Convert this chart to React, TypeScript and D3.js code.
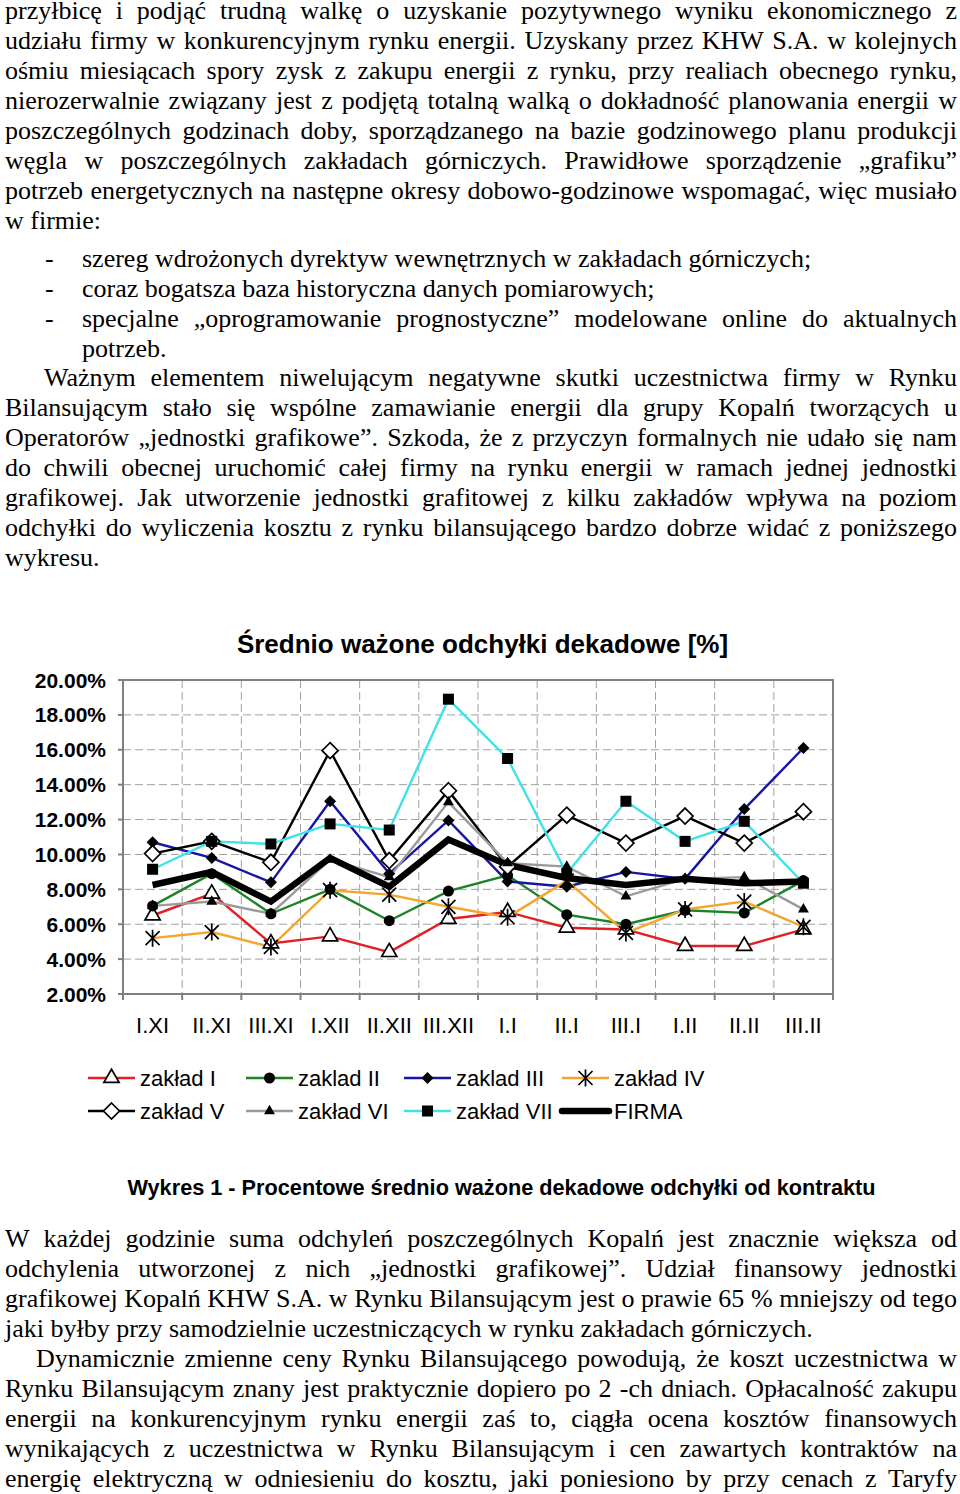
import { useMemo } from 'react'
import * as d3 from 'd3'

// --- chart data ---
const categories = ['I.XI', 'II.XI', 'III.XI', 'I.XII', 'II.XII', 'III.XII', 'I.I', 'II.I', 'III.I', 'I.II', 'II.II', 'III.II']
const yTicks = [2, 4, 6, 8, 10, 12, 14, 16, 18, 20]

const zakladI = [6.5, 7.75, 4.9, 5.3, 4.4, 6.3, 6.7, 5.8, 5.7, 4.75, 4.75, 5.7]
const zakladII = [7.05, 8.9, 6.6, 8.0, 6.2, 7.9, 8.8, 6.55, 6.0, 6.8, 6.65, 8.5]
const zakladIII = [10.7, 9.8, 8.4, 13.05, 8.9, 11.95, 8.45, 8.15, 9.0, 8.6, 12.6, 16.1]
const zakladIV = [5.2, 5.55, 4.7, 7.95, 7.7, 7.0, 6.4, 8.5, 5.5, 6.85, 7.3, 5.85]
const zakladV = [10.05, 10.75, 9.55, 15.95, 9.65, 13.65, 9.3, 12.25, 10.65, 12.2, 10.65, 12.45]
const zakladVI = [7.05, 7.3, 6.6, 9.7, 8.7, 13.0, 9.5, 9.3, 7.6, 8.6, 8.7, 6.85]
const zakladVII = [9.15, 10.75, 10.6, 11.75, 11.4, 18.9, 15.5, 8.9, 13.05, 10.75, 11.9, 8.35]
const firma = [8.25, 9.0, 7.3, 9.8, 8.15, 10.85, 9.4, 8.65, 8.25, 8.6, 8.35, 8.45]

const seriesNames = ['zakład I', 'zaklad II', 'zaklad III', 'zakład IV', 'zakład V', 'zakład VI', 'zakład VII', 'FIRMA']

const chartTitle = 'Średnio ważone odchyłki dekadowe [%]'
const caption = 'Wykres 1 - Procentowe średnio ważone dekadowe odchyłki od kontraktu'

// --- surrounding document text ---
const topLines = [
  'przyłbicę i podjąć trudną walkę o uzyskanie pozytywnego wyniku ekonomicznego z',
  'udziału firmy w konkurencyjnym rynku energii. Uzyskany przez KHW S.A. w kolejnych',
  'ośmiu miesiącach spory zysk z zakupu energii z rynku, przy realiach obecnego rynku,',
  'nierozerwalnie związany jest z podjętą totalną walką o dokładność planowania energii w',
  'poszczególnych godzinach doby, sporządzanego na bazie godzinowego planu produkcji',
  'węgla w poszczególnych zakładach górniczych. Prawidłowe sporządzenie „grafiku”',
  'potrzeb energetycznych na następne okresy dobowo-godzinowe wspomagać, więc musiało',
  'w firmie:',
]
const bulletLines = [
  'szereg wdrożonych dyrektyw wewnętrznych w zakładach górniczych;',
  'coraz bogatsza baza historyczna danych pomiarowych;',
  'specjalne „oprogramowanie prognostyczne” modelowane online do aktualnych',
  'potrzeb.',
]
const midLines = [
  'Ważnym elementem niwelującym negatywne skutki uczestnictwa firmy w Rynku',
  'Bilansującym stało się wspólne zamawianie energii dla grupy Kopalń tworzących u',
  'Operatorów „jednostki grafikowe”. Szkoda, że z przyczyn formalnych nie udało się nam',
  'do chwili obecnej uruchomić całej firmy na rynku energii w ramach jednej jednostki',
  'grafikowej. Jak utworzenie jednostki grafitowej z kilku zakładów wpływa na poziom',
  'odchyłki do wyliczenia kosztu z rynku bilansującego bardzo dobrze widać z poniższego',
  'wykresu.',
]
const bottomLines = [
  'W każdej godzinie suma odchyleń poszczególnych Kopalń jest znacznie większa od',
  'odchylenia utworzonej z nich „jednostki grafikowej”. Udział finansowy jednostki',
  'grafikowej Kopalń KHW S.A. w Rynku Bilansującym jest o prawie 65 % mniejszy od tego',
  'jaki byłby przy samodzielnie uczestniczących w rynku zakładach górniczych.',
  'Dynamicznie zmienne ceny Rynku Bilansującego powodują, że koszt uczestnictwa w',
  'Rynku Bilansującym znany jest praktycznie dopiero po 2 -ch dniach. Opłacalność zakupu',
  'energii na konkurencyjnym rynku energii zaś to, ciągła ocena kosztów finansowych',
  'wynikających z uczestnictwa w Rynku Bilansującym i cen zawartych kontraktów na',
  'energię elektryczną w odniesieniu do kosztu, jaki poniesiono by przy cenach z Taryfy',
]

const SERIF = '"Liberation Serif", "Times New Roman", serif'
const SANS = '"Liberation Sans", Arial, sans-serif'
const BODY_SIZE = 26
const RIGHT = 957

type Marker = 'triOpen' | 'circle' | 'diamond' | 'star' | 'diamondOpen' | 'triFilled' | 'square' | 'none'

const series = [
  { name: seriesNames[0], values: zakladI, color: '#e31e24', width: 2.4, marker: 'triOpen' as Marker },
  { name: seriesNames[1], values: zakladII, color: '#1c8326', width: 2.4, marker: 'circle' as Marker },
  { name: seriesNames[2], values: zakladIII, color: '#1616a6', width: 2.4, marker: 'diamond' as Marker },
  { name: seriesNames[3], values: zakladIV, color: '#f6a52c', width: 2.4, marker: 'star' as Marker },
  { name: seriesNames[4], values: zakladV, color: '#000000', width: 2.4, marker: 'diamondOpen' as Marker },
  { name: seriesNames[5], values: zakladVI, color: '#9a9a9a', width: 2.4, marker: 'triFilled' as Marker },
  { name: seriesNames[6], values: zakladVII, color: '#3fe2ea', width: 2.4, marker: 'square' as Marker },
  { name: seriesNames[7], values: firma, color: '#000000', width: 6.5, marker: 'none' as Marker },
]

function MarkerShape({ type, x, y }: { type: Marker; x: number; y: number }) {
  const t = `translate(${x},${y})`
  switch (type) {
    case 'triOpen':
      return <path transform={t} d={d3.symbol(d3.symbolTriangle, 100)()!} fill="#fff" stroke="#000" strokeWidth={1.7} />
    case 'circle':
      return <circle cx={x} cy={y} r={5.5} fill="#000" />
    case 'diamond':
      return <path transform={t} d="M0,-6L6,0L0,6L-6,0Z" fill="#000" />
    case 'star':
      return (
        <path transform={t} d="M-7,-7L7,7M-7,7L7,-7M0,-8.5L0,8.5" stroke="#000" strokeWidth={1.7} fill="none" />
      )
    case 'diamondOpen':
      return <path transform={t} d="M0,-8L8,0L0,8L-8,0Z" fill="#fff" stroke="#000" strokeWidth={1.7} />
    case 'triFilled':
      return <path transform={t} d={d3.symbol(d3.symbolTriangle, 52)()!} fill="#000" />
    case 'square':
      return <rect x={x - 5.5} y={y - 5.5} width={11} height={11} fill="#000" />
    default:
      return null
  }
}

function TextLine({ text, x, y, justify, measure }: {
  text: string; x: number; y: number; justify: boolean; measure: (s: string) => number
}) {
  if (!justify) return <text x={x} y={y}>{text}</text>
  const words = text.split(' ')
  const widths = words.map(measure)
  const gap = (RIGHT - x - d3.sum(widths)) / (words.length - 1)
  let cur = x
  return (
    <text y={y}>
      {words.map((w, i) => {
        const pos = cur
        cur += widths[i] + gap
        return <tspan key={i} x={pos}>{w}</tspan>
      })}
    </text>
  )
}

export default function App() {
  const measure = useMemo(() => {
    const ctx = document.createElement('canvas').getContext('2d')!
    ctx.font = `${BODY_SIZE}px ${SERIF}`
    return (s: string) => ctx.measureText(s).width
  }, [])

  const plot = { left: 123, right: 833, top: 680, bottom: 994 }
  const x = d3.scaleBand<string>().domain(categories).range([plot.left, plot.right])
  const y = d3.scaleLinear().domain([2, 20]).range([plot.bottom, plot.top])
  const cx = (c: string) => (x(c) ?? 0) + x.bandwidth() / 2

  const line = d3.line<number>()
    .x((_, i) => cx(categories[i]))
    .y(d => y(d))

  const boundaries = categories.map(c => x(c)!).concat([plot.right])

  const legendCols = [88, 246, 404, 562]
  const legendRows = [1078, 1111]

  return (
    <svg width={960} height={1494} style={{ position: 'absolute', left: 0, top: 0, background: '#fff' }}>
      {/* document text */}
      <g fontFamily={SERIF} fontSize={BODY_SIZE} fill="#000">
        {topLines.map((t, i) => (
          <TextLine key={'t' + i} text={t} x={5} y={19 + i * 30} justify={i < topLines.length - 1} measure={measure} />
        ))}
        {bulletLines.map((t, i) => (
          <g key={'b' + i}>
            {i < 3 && <text x={45} y={267 + i * 30}>-</text>}
            <TextLine text={t} x={82} y={267 + i * 30} justify={i === 2} measure={measure} />
          </g>
        ))}
        {midLines.map((t, i) => (
          <TextLine key={'m' + i} text={t} x={i === 0 ? 44 : 5} y={386 + i * 30} justify={i < midLines.length - 1} measure={measure} />
        ))}
        {bottomLines.map((t, i) => (
          <TextLine key={'e' + i} text={t} x={i === 4 ? 36 : 5} y={1247 + i * 30} justify={i !== 3} measure={measure} />
        ))}
      </g>

      {/* chart */}
      <g fontFamily={SANS} fill="#000">
        <text x={482.5} y={653} textAnchor="middle" fontSize={26} fontWeight="bold">{chartTitle}</text>

        {/* grid */}
        {yTicks.slice(1, -1).map(v => (
          <line key={'gy' + v} x1={plot.left} x2={plot.right} y1={y(v)} y2={y(v)} stroke="#a0a0a0" strokeWidth={1} strokeDasharray="8,4" />
        ))}
        {boundaries.slice(1, -1).map((bx, i) => (
          <line key={'gx' + i} x1={bx} x2={bx} y1={plot.top} y2={plot.bottom} stroke="#a0a0a0" strokeWidth={1} strokeDasharray="8,4" />
        ))}
        <rect x={plot.left} y={plot.top} width={plot.right - plot.left} height={plot.bottom - plot.top} fill="none" stroke="#808080" strokeWidth={2} />

        {/* axes ticks + labels */}
        {yTicks.map(v => (
          <g key={'yt' + v}>
            <line x1={plot.left - 5} x2={plot.left} y1={y(v)} y2={y(v)} stroke="#808080" strokeWidth={2} />
            <text x={106} y={y(v) + 7.5} textAnchor="end" fontSize={21} fontWeight="bold">{v.toFixed(2) + '%'}</text>
          </g>
        ))}
        {boundaries.map((bx, i) => (
          <line key={'xt' + i} x1={bx} x2={bx} y1={plot.bottom} y2={plot.bottom + 6} stroke="#808080" strokeWidth={2} />
        ))}
        {categories.map(c => (
          <text key={'xl' + c} x={cx(c)} y={1033} textAnchor="middle" fontSize={22}>{c}</text>
        ))}

        {/* series lines */}
        {series.map(s => (
          <path key={'l' + s.name} d={line(s.values)!} fill="none" stroke={s.color} strokeWidth={s.width} strokeLinejoin="miter" />
        ))}
        {/* markers */}
        {series.map(s => (
          <g key={'mk' + s.name}>
            {s.values.map((v, i) => (
              <MarkerShape key={i} type={s.marker} x={cx(categories[i])} y={y(v)} />
            ))}
          </g>
        ))}

        {/* legend */}
        {series.map((s, i) => {
          const lx = legendCols[i % 4]
          const ly = legendRows[Math.floor(i / 4)]
          return (
            <g key={'lg' + s.name}>
              <line x1={lx} x2={lx + 47} y1={ly} y2={ly} stroke={s.color} strokeWidth={s.width} strokeLinecap={s.marker === 'none' ? 'round' : 'butt'} />
              <MarkerShape type={s.marker} x={lx + 23.5} y={ly} />
              <text x={lx + 52} y={ly + 8} fontSize={22}>{s.name}</text>
            </g>
          )
        })}

        <text x={501.5} y={1195} textAnchor="middle" fontSize={21.7} fontWeight="bold">{caption}</text>
      </g>
    </svg>
  )
}
